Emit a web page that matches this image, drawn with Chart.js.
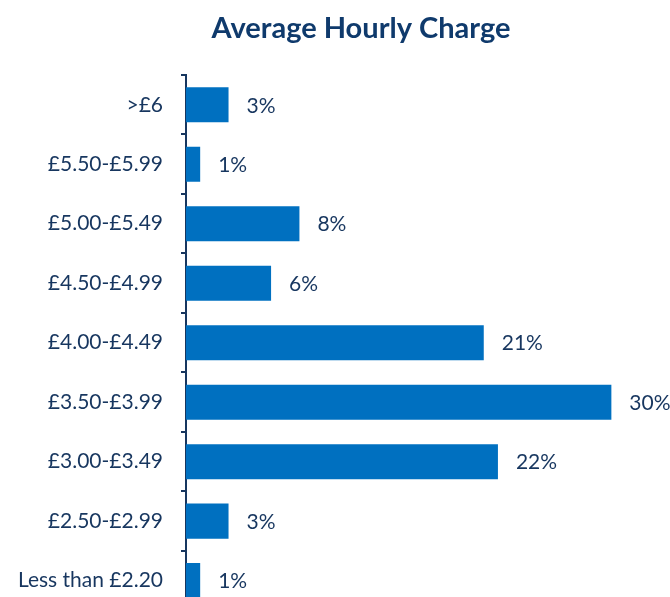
<!DOCTYPE html>
<html>
<head>
<meta charset="utf-8">
<script src="https://cdn.jsdelivr.net/npm/chart.js@4.4.0/dist/chart.umd.min.js"></script>
<style>
  html, body { margin: 0; padding: 0; background: #fff; overflow: hidden; }
</style>
</head>
<body>
<canvas id="chart" width="670" height="641"></canvas>
<script>
// datos del gráfico
const categories = ['>£6', '£5.50-£5.99', '£5.00-£5.49', '£4.50-£4.99', '£4.00-£4.49',
                    '£3.50-£3.99', '£3.00-£3.49', '£2.50-£2.99', 'Less than £2.20'];
const shares = [3, 1, 8, 6, 21, 30, 22, 3, 1];
const chartTitle = 'Average Hourly Charge';

const navy = '#17365f';

// título y etiquetas de valor dibujados a mano
const decorations = {
    id: 'decorations',
    afterDatasetsDraw(chart) {
        const ctx = chart.ctx;
        const meta = chart.getDatasetMeta(0);
        ctx.save();
        ctx.font = '21px Lato';
        ctx.fillStyle = navy;
        ctx.textAlign = 'left';
        ctx.textBaseline = 'middle';
        meta.data.forEach((bar, i) => {
            ctx.fillText(shares[i] + '%', bar.x + 18, bar.y + 1);
        });

        ctx.font = 'bold 29px Lato';
        ctx.fillStyle = '#0f3a6c';
        ctx.textAlign = 'center';
        ctx.fillText(chartTitle, 361, 29);
        ctx.restore();
    }
};

new Chart(document.getElementById('chart'), {
    type: 'bar',
    data: {
        labels: categories,
        datasets: [{
            data: shares,
            backgroundColor: '#0070c0',
            borderWidth: 0,
            categoryPercentage: 1,
            barPercentage: 0.59
        }]
    },
    options: {
        indexAxis: 'y',
        responsive: false,
        animation: false,
        layout: { padding: { left: 0, right: 9, top: 75, bottom: 2 } },
        plugins: {
            legend: { display: false },
            tooltip: { enabled: false },
            title: { display: false }
        },
        scales: {
            x: {
                display: false,
                min: 0,
                max: 33.5
            },
            y: {
                afterFit(scale) { scale.width = 186; },
                border: { display: true, color: navy, width: 2 },
                grid: {
                    drawOnChartArea: false,
                    drawTicks: true,
                    tickLength: 5,
                    color: navy,
                    lineWidth: 2
                },
                ticks: {
                    color: navy,
                    padding: 18,
                    font: { family: 'Lato', size: 21 }
                }
            }
        }
    },
    plugins: [decorations]
});
</script>
</body>
</html>
